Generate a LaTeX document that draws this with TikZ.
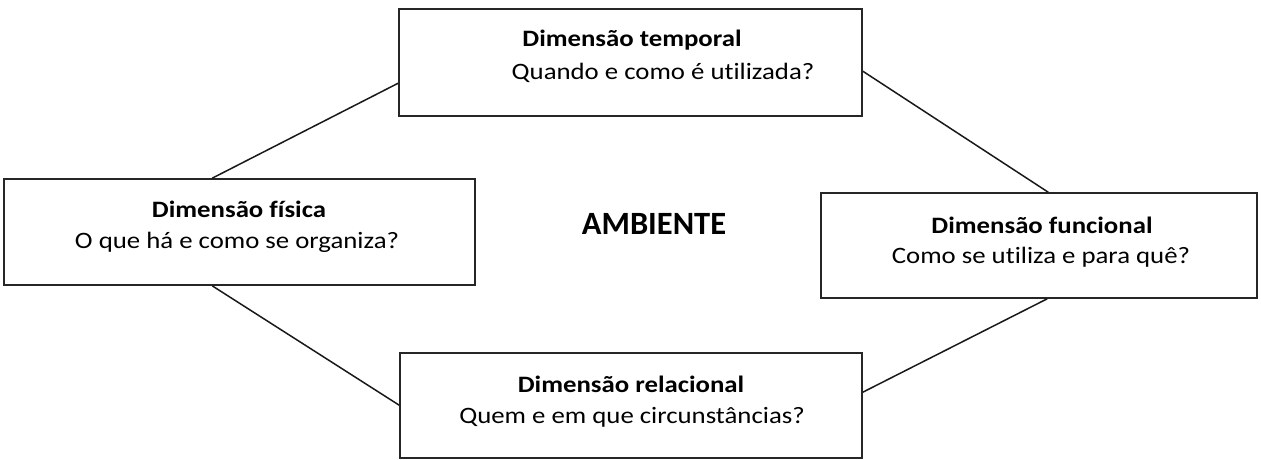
\documentclass[tikz,border=0pt]{standalone}
\usepackage{fontspec}
\setmainfont{Carlito}[FakeStretch=1.14, Ligatures=NoCommon]
\newfontfamily\ambfont{Carlito}[Ligatures=NoCommon]
\begin{document}
\begin{tikzpicture}[x=1pt,y=-1pt,
  dimbox/.style={draw=black!85, line width=1.6pt, minimum width=#1, inner sep=0pt},
  lbl/.style={anchor=base, inner sep=0pt, font=\fontsize{23.5}{28}\selectfont},
  ttl/.style={anchor=base, inner sep=0pt, font=\fontsize{23.5}{28}\selectfont\bfseries},
  conn/.style={draw=black!90, line width=1.5pt}]
\useasboundingbox (0,0) rectangle (1261,460);
\node[dimbox=463pt, minimum height=107pt] (T) at (630.5,62.5) {};
\node[dimbox=471pt, minimum height=106pt] (L) at (239.5,232) {};
\node[dimbox=436pt, minimum height=105pt] (R) at (1039,245.5) {};
\node[dimbox=462pt, minimum height=105pt] (B) at (631,405.5) {};
\node[ttl] (t1) at (632,47) {Dimensão temporal};
\node[lbl] (t2) at (663,80) {Quando e como é utilizada?};
\node[ttl] (l1) at (239,217) {Dimensão física};
\node[lbl] (l2) at (237,248) {O que há e como se organiza?};
\node[ttl] (r1) at (1042,233) {Dimensão funcional};
\node[lbl] (r2) at (1041,263) {Como se utiliza e para quê?};
\node[ttl] (b1) at (631,392) {Dimensão relacional};
\node[lbl] (b2) at (632,423) {Quem e em que circunstâncias?};
\node[anchor=base, inner sep=0pt, font=\ambfont\fontsize{32.5}{38}\selectfont\bfseries] (amb) at (654,234) {AMBIENTE};
\draw[conn] ([xshift=209pt]L.north west) -- ([yshift=-75pt]T.north west);
\draw[conn] ([yshift=-63pt]T.north east) -- ([xshift=228pt]R.north west);
\draw[conn] ([xshift=209pt]L.south west) -- ([yshift=-53pt]B.north west);
\draw[conn] ([xshift=227pt]R.south west) -- ([yshift=-40pt]B.north east);
\end{tikzpicture}
\end{document}
